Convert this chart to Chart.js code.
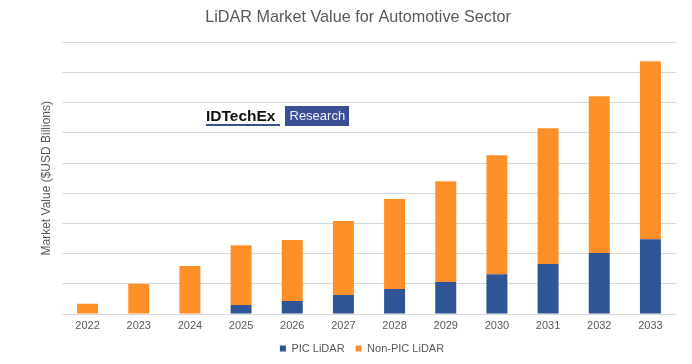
<!DOCTYPE html>
<html>
<head>
<meta charset="utf-8">
<script src="https://cdn.jsdelivr.net/npm/chart.js@4"></script>
<style>
html,body{margin:0;padding:0;background:#fff;}
#wrap{position:relative;width:692px;height:364px;}
#logo{position:absolute;left:206px;top:106px;height:20px;display:flex;align-items:stretch;font-family:"Liberation Sans",Arial,sans-serif;}
#logo .id{font-weight:bold;font-size:15.5px;color:#111;line-height:19px;border-bottom:2px solid #3B4F91;padding-right:4px;margin-right:5px;}
#logo .rs{background:#3B4F96;color:#f2f2f2;font-size:13px;line-height:20px;padding:0 4px 0 5px;}
</style>
</head>
<body>
<div id="wrap">
<canvas id="c" width="692" height="364"></canvas>
<div id="logo"><span class="id">IDTechEx</span><span class="rs">Research</span></div>
</div>
<script>
const years = ['2022','2023','2024','2025','2026','2027','2028','2029','2030','2031','2032','2033'];
const picLidar = [0, 0, 0, 0.30, 0.43, 0.63, 0.83, 1.06, 1.32, 1.66, 2.02, 2.48];
const nonPicLidar = [0.34, 1.00, 1.59, 1.98, 2.02, 2.45, 2.98, 3.34, 3.94, 4.50, 5.20, 5.90];
const seriesNames = ['PIC LiDAR', 'Non-PIC LiDAR'];
const FONT = '"Liberation Sans", Arial, sans-serif';
const GREY = '#595959';

const shiftBoxes = {
  id: 'shiftBoxes',
  afterLayout(chart) {
    if (chart.titleBlock) { chart.titleBlock.left += 2.5; chart.titleBlock.right += 2.5; }
    if (chart.legend) { chart.legend.left += 6.5; chart.legend.right += 6.5; }
  }
};

new Chart(document.getElementById('c'), {
  type: 'bar',
  data: {
    labels: years,
    datasets: [
      {label: seriesNames[0], data: picLidar, backgroundColor: '#2F5597', borderWidth: 0},
      {label: seriesNames[1], data: nonPicLidar, backgroundColor: '#FF8F28', borderWidth: 0}
    ]
  },
  plugins: [shiftBoxes],
  options: {
    responsive: false,
    animation: false,
    datasets: {bar: {categoryPercentage: 0.82, barPercentage: 0.5}},
    layout: {padding: {left: 35, right: 16, top: 0, bottom: 0}},
    plugins: {
      title: {display: true, text: 'LiDAR Market Value for Automotive Sector', color: GREY,
        font: {family: FONT, size: 16.2, weight: 'normal'}, padding: {top: 8, bottom: 15}},
      legend: {position: 'bottom', labels: {boxWidth: 6, boxHeight: 6, color: GREY,
        font: {family: FONT, size: 11}, padding: 11}},
      tooltip: {enabled: false}
    },
    scales: {
      x: {stacked: true,
        grid: {display: false, drawTicks: false, tickLength: 0}, border: {display: false},
        ticks: {color: GREY, font: {family: FONT, size: 11}, padding: 5, maxRotation: 0},
        afterFit: s => { s.height = 18; }
      },
      y: {stacked: true, min: 0, max: 9,
        ticks: {display: false, stepSize: 1},
        grid: {color: '#D9D9D9', lineWidth: 1, drawTicks: false},
        border: {display: false},
        title: {display: true, text: 'Market Value ($USD Billions)', color: GREY,
          font: {family: FONT, size: 12}, padding: 4},
        afterFit: s => { s.width = 27; }
      }
    }
  }
});
</script>
</body>
</html>
